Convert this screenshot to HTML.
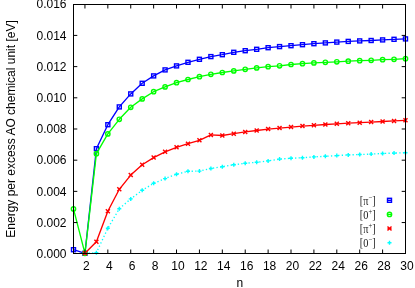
<!DOCTYPE html>
<html><head><meta charset="utf-8"><title>plot</title>
<style>
html,body{margin:0;padding:0;background:#fff;}
body{width:415px;height:288px;overflow:hidden;}
svg{display:block;will-change:transform;opacity:0.999;}
text{font-family:"Liberation Sans",sans-serif;fill:#000;}
.t{font-size:12px;}
.k{font-family:"Liberation Serif",serif;font-size:11.6px;fill:#222;}
</style></head><body>
<svg width="415" height="288" viewBox="0 0 415 288">
<rect width="415" height="288" fill="#fff"/>
<polyline points="73.50,249.70 84.95,253.30 96.40,148.70 107.84,124.70 119.29,106.90 130.74,93.90 142.19,83.30 153.64,75.90 165.08,69.90 176.53,65.90 187.98,62.30 199.43,59.30 210.88,56.60 222.32,54.70 233.77,52.30 245.22,50.70 256.67,49.30 268.12,47.70 279.56,46.60 291.01,45.70 302.46,44.70 313.91,43.70 325.36,42.90 336.80,42.10 348.25,41.40 359.70,40.90 371.15,40.50 382.60,39.90 394.04,39.30 405.49,38.90" fill="none" stroke="#0000ff" stroke-width="1.35" stroke-linejoin="round" />
<rect x="71.50" y="247.70" width="4.0" height="4.0" fill="none" stroke="#0000ff" stroke-width="1.4"/>
<rect x="82.95" y="251.30" width="4.0" height="4.0" fill="none" stroke="#0000ff" stroke-width="1.4"/>
<rect x="94.40" y="146.70" width="4.0" height="4.0" fill="none" stroke="#0000ff" stroke-width="1.4"/>
<rect x="105.84" y="122.70" width="4.0" height="4.0" fill="none" stroke="#0000ff" stroke-width="1.4"/>
<rect x="117.29" y="104.90" width="4.0" height="4.0" fill="none" stroke="#0000ff" stroke-width="1.4"/>
<rect x="128.74" y="91.90" width="4.0" height="4.0" fill="none" stroke="#0000ff" stroke-width="1.4"/>
<rect x="140.19" y="81.30" width="4.0" height="4.0" fill="none" stroke="#0000ff" stroke-width="1.4"/>
<rect x="151.64" y="73.90" width="4.0" height="4.0" fill="none" stroke="#0000ff" stroke-width="1.4"/>
<rect x="163.08" y="67.90" width="4.0" height="4.0" fill="none" stroke="#0000ff" stroke-width="1.4"/>
<rect x="174.53" y="63.90" width="4.0" height="4.0" fill="none" stroke="#0000ff" stroke-width="1.4"/>
<rect x="185.98" y="60.30" width="4.0" height="4.0" fill="none" stroke="#0000ff" stroke-width="1.4"/>
<rect x="197.43" y="57.30" width="4.0" height="4.0" fill="none" stroke="#0000ff" stroke-width="1.4"/>
<rect x="208.88" y="54.60" width="4.0" height="4.0" fill="none" stroke="#0000ff" stroke-width="1.4"/>
<rect x="220.32" y="52.70" width="4.0" height="4.0" fill="none" stroke="#0000ff" stroke-width="1.4"/>
<rect x="231.77" y="50.30" width="4.0" height="4.0" fill="none" stroke="#0000ff" stroke-width="1.4"/>
<rect x="243.22" y="48.70" width="4.0" height="4.0" fill="none" stroke="#0000ff" stroke-width="1.4"/>
<rect x="254.67" y="47.30" width="4.0" height="4.0" fill="none" stroke="#0000ff" stroke-width="1.4"/>
<rect x="266.12" y="45.70" width="4.0" height="4.0" fill="none" stroke="#0000ff" stroke-width="1.4"/>
<rect x="277.56" y="44.60" width="4.0" height="4.0" fill="none" stroke="#0000ff" stroke-width="1.4"/>
<rect x="289.01" y="43.70" width="4.0" height="4.0" fill="none" stroke="#0000ff" stroke-width="1.4"/>
<rect x="300.46" y="42.70" width="4.0" height="4.0" fill="none" stroke="#0000ff" stroke-width="1.4"/>
<rect x="311.91" y="41.70" width="4.0" height="4.0" fill="none" stroke="#0000ff" stroke-width="1.4"/>
<rect x="323.36" y="40.90" width="4.0" height="4.0" fill="none" stroke="#0000ff" stroke-width="1.4"/>
<rect x="334.80" y="40.10" width="4.0" height="4.0" fill="none" stroke="#0000ff" stroke-width="1.4"/>
<rect x="346.25" y="39.40" width="4.0" height="4.0" fill="none" stroke="#0000ff" stroke-width="1.4"/>
<rect x="357.70" y="38.90" width="4.0" height="4.0" fill="none" stroke="#0000ff" stroke-width="1.4"/>
<rect x="369.15" y="38.50" width="4.0" height="4.0" fill="none" stroke="#0000ff" stroke-width="1.4"/>
<rect x="380.60" y="37.90" width="4.0" height="4.0" fill="none" stroke="#0000ff" stroke-width="1.4"/>
<rect x="392.04" y="37.30" width="4.0" height="4.0" fill="none" stroke="#0000ff" stroke-width="1.4"/>
<rect x="403.49" y="36.90" width="4.0" height="4.0" fill="none" stroke="#0000ff" stroke-width="1.4"/>
<polyline points="73.50,208.90 84.95,253.30 96.40,153.70 107.84,133.90 119.29,119.30 130.74,107.30 142.19,98.90 153.64,91.70 165.08,86.90 176.53,82.70 187.98,79.50 199.43,76.70 210.88,74.30 222.32,72.50 233.77,70.90 245.22,69.30 256.67,67.90 268.12,66.70 279.56,65.80 291.01,64.50 302.46,63.70 313.91,62.90 325.36,62.30 336.80,61.80 348.25,61.20 359.70,60.70 371.15,60.30 382.60,59.70 394.04,59.30 405.49,58.70" fill="none" stroke="#00ff00" stroke-width="1.35" stroke-linejoin="round" />
<circle cx="73.50" cy="208.90" r="2.15" fill="none" stroke="#00ff00" stroke-width="1.4"/>
<circle cx="84.95" cy="253.30" r="2.15" fill="none" stroke="#00ff00" stroke-width="1.4"/>
<circle cx="96.40" cy="153.70" r="2.15" fill="none" stroke="#00ff00" stroke-width="1.4"/>
<circle cx="107.84" cy="133.90" r="2.15" fill="none" stroke="#00ff00" stroke-width="1.4"/>
<circle cx="119.29" cy="119.30" r="2.15" fill="none" stroke="#00ff00" stroke-width="1.4"/>
<circle cx="130.74" cy="107.30" r="2.15" fill="none" stroke="#00ff00" stroke-width="1.4"/>
<circle cx="142.19" cy="98.90" r="2.15" fill="none" stroke="#00ff00" stroke-width="1.4"/>
<circle cx="153.64" cy="91.70" r="2.15" fill="none" stroke="#00ff00" stroke-width="1.4"/>
<circle cx="165.08" cy="86.90" r="2.15" fill="none" stroke="#00ff00" stroke-width="1.4"/>
<circle cx="176.53" cy="82.70" r="2.15" fill="none" stroke="#00ff00" stroke-width="1.4"/>
<circle cx="187.98" cy="79.50" r="2.15" fill="none" stroke="#00ff00" stroke-width="1.4"/>
<circle cx="199.43" cy="76.70" r="2.15" fill="none" stroke="#00ff00" stroke-width="1.4"/>
<circle cx="210.88" cy="74.30" r="2.15" fill="none" stroke="#00ff00" stroke-width="1.4"/>
<circle cx="222.32" cy="72.50" r="2.15" fill="none" stroke="#00ff00" stroke-width="1.4"/>
<circle cx="233.77" cy="70.90" r="2.15" fill="none" stroke="#00ff00" stroke-width="1.4"/>
<circle cx="245.22" cy="69.30" r="2.15" fill="none" stroke="#00ff00" stroke-width="1.4"/>
<circle cx="256.67" cy="67.90" r="2.15" fill="none" stroke="#00ff00" stroke-width="1.4"/>
<circle cx="268.12" cy="66.70" r="2.15" fill="none" stroke="#00ff00" stroke-width="1.4"/>
<circle cx="279.56" cy="65.80" r="2.15" fill="none" stroke="#00ff00" stroke-width="1.4"/>
<circle cx="291.01" cy="64.50" r="2.15" fill="none" stroke="#00ff00" stroke-width="1.4"/>
<circle cx="302.46" cy="63.70" r="2.15" fill="none" stroke="#00ff00" stroke-width="1.4"/>
<circle cx="313.91" cy="62.90" r="2.15" fill="none" stroke="#00ff00" stroke-width="1.4"/>
<circle cx="325.36" cy="62.30" r="2.15" fill="none" stroke="#00ff00" stroke-width="1.4"/>
<circle cx="336.80" cy="61.80" r="2.15" fill="none" stroke="#00ff00" stroke-width="1.4"/>
<circle cx="348.25" cy="61.20" r="2.15" fill="none" stroke="#00ff00" stroke-width="1.4"/>
<circle cx="359.70" cy="60.70" r="2.15" fill="none" stroke="#00ff00" stroke-width="1.4"/>
<circle cx="371.15" cy="60.30" r="2.15" fill="none" stroke="#00ff00" stroke-width="1.4"/>
<circle cx="382.60" cy="59.70" r="2.15" fill="none" stroke="#00ff00" stroke-width="1.4"/>
<circle cx="394.04" cy="59.30" r="2.15" fill="none" stroke="#00ff00" stroke-width="1.4"/>
<circle cx="405.49" cy="58.70" r="2.15" fill="none" stroke="#00ff00" stroke-width="1.4"/>
<polyline points="84.95,253.30 96.40,241.70 107.84,211.30 119.29,189.30 130.74,175.10 142.19,164.70 153.64,157.60 165.08,151.80 176.53,147.30 187.98,143.70 199.43,140.30 210.88,134.90 222.32,135.50 233.77,133.70 245.22,131.90 256.67,130.50 268.12,129.10 279.56,128.10 291.01,127.10 302.46,126.10 313.91,125.30 325.36,124.50 336.80,123.80 348.25,123.20 359.70,122.70 371.15,122.10 382.60,121.50 394.04,120.90 405.49,120.30" fill="none" stroke="#ff0000" stroke-width="1.35" stroke-linejoin="round" />
<path d="M82.95 251.30L86.95 255.30M82.95 255.30L86.95 251.30" stroke="#ff0000" stroke-width="1.4" fill="none"/>
<path d="M94.40 239.70L98.40 243.70M94.40 243.70L98.40 239.70" stroke="#ff0000" stroke-width="1.4" fill="none"/>
<path d="M105.84 209.30L109.84 213.30M105.84 213.30L109.84 209.30" stroke="#ff0000" stroke-width="1.4" fill="none"/>
<path d="M117.29 187.30L121.29 191.30M117.29 191.30L121.29 187.30" stroke="#ff0000" stroke-width="1.4" fill="none"/>
<path d="M128.74 173.10L132.74 177.10M128.74 177.10L132.74 173.10" stroke="#ff0000" stroke-width="1.4" fill="none"/>
<path d="M140.19 162.70L144.19 166.70M140.19 166.70L144.19 162.70" stroke="#ff0000" stroke-width="1.4" fill="none"/>
<path d="M151.64 155.60L155.64 159.60M151.64 159.60L155.64 155.60" stroke="#ff0000" stroke-width="1.4" fill="none"/>
<path d="M163.08 149.80L167.08 153.80M163.08 153.80L167.08 149.80" stroke="#ff0000" stroke-width="1.4" fill="none"/>
<path d="M174.53 145.30L178.53 149.30M174.53 149.30L178.53 145.30" stroke="#ff0000" stroke-width="1.4" fill="none"/>
<path d="M185.98 141.70L189.98 145.70M185.98 145.70L189.98 141.70" stroke="#ff0000" stroke-width="1.4" fill="none"/>
<path d="M197.43 138.30L201.43 142.30M197.43 142.30L201.43 138.30" stroke="#ff0000" stroke-width="1.4" fill="none"/>
<path d="M208.88 132.90L212.88 136.90M208.88 136.90L212.88 132.90" stroke="#ff0000" stroke-width="1.4" fill="none"/>
<path d="M220.32 133.50L224.32 137.50M220.32 137.50L224.32 133.50" stroke="#ff0000" stroke-width="1.4" fill="none"/>
<path d="M231.77 131.70L235.77 135.70M231.77 135.70L235.77 131.70" stroke="#ff0000" stroke-width="1.4" fill="none"/>
<path d="M243.22 129.90L247.22 133.90M243.22 133.90L247.22 129.90" stroke="#ff0000" stroke-width="1.4" fill="none"/>
<path d="M254.67 128.50L258.67 132.50M254.67 132.50L258.67 128.50" stroke="#ff0000" stroke-width="1.4" fill="none"/>
<path d="M266.12 127.10L270.12 131.10M266.12 131.10L270.12 127.10" stroke="#ff0000" stroke-width="1.4" fill="none"/>
<path d="M277.56 126.10L281.56 130.10M277.56 130.10L281.56 126.10" stroke="#ff0000" stroke-width="1.4" fill="none"/>
<path d="M289.01 125.10L293.01 129.10M289.01 129.10L293.01 125.10" stroke="#ff0000" stroke-width="1.4" fill="none"/>
<path d="M300.46 124.10L304.46 128.10M300.46 128.10L304.46 124.10" stroke="#ff0000" stroke-width="1.4" fill="none"/>
<path d="M311.91 123.30L315.91 127.30M311.91 127.30L315.91 123.30" stroke="#ff0000" stroke-width="1.4" fill="none"/>
<path d="M323.36 122.50L327.36 126.50M323.36 126.50L327.36 122.50" stroke="#ff0000" stroke-width="1.4" fill="none"/>
<path d="M334.80 121.80L338.80 125.80M334.80 125.80L338.80 121.80" stroke="#ff0000" stroke-width="1.4" fill="none"/>
<path d="M346.25 121.20L350.25 125.20M346.25 125.20L350.25 121.20" stroke="#ff0000" stroke-width="1.4" fill="none"/>
<path d="M357.70 120.70L361.70 124.70M357.70 124.70L361.70 120.70" stroke="#ff0000" stroke-width="1.4" fill="none"/>
<path d="M369.15 120.10L373.15 124.10M369.15 124.10L373.15 120.10" stroke="#ff0000" stroke-width="1.4" fill="none"/>
<path d="M380.60 119.50L384.60 123.50M380.60 123.50L384.60 119.50" stroke="#ff0000" stroke-width="1.4" fill="none"/>
<path d="M392.04 118.90L396.04 122.90M392.04 122.90L396.04 118.90" stroke="#ff0000" stroke-width="1.4" fill="none"/>
<path d="M403.49 118.30L407.49 122.30M403.49 122.30L407.49 118.30" stroke="#ff0000" stroke-width="1.4" fill="none"/>
<polyline points="84.95,253.30 96.40,252.70 107.84,228.30 119.29,208.70 130.74,198.90 142.19,190.30 153.64,183.30 165.08,178.60 176.53,174.20 187.98,171.30 199.43,171.10 210.88,168.50 222.32,166.70 233.77,164.70 245.22,163.30 256.67,162.30 268.12,160.90 279.56,159.10 291.01,158.30 302.46,157.70 313.91,156.90 325.36,156.30 336.80,155.60 348.25,154.90 359.70,154.50 371.15,154.10 382.60,153.50 394.04,153.10 405.49,152.70" fill="none" stroke="#00ffff" stroke-width="1.35" stroke-linejoin="round" stroke-dasharray="1.3 2.3"/>
<path d="M94.40 252.70H98.40M96.40 250.70V254.70" stroke="#00ffff" stroke-width="1.4" fill="none"/>
<path d="M105.84 228.30H109.84M107.84 226.30V230.30" stroke="#00ffff" stroke-width="1.4" fill="none"/>
<path d="M117.29 208.70H121.29M119.29 206.70V210.70" stroke="#00ffff" stroke-width="1.4" fill="none"/>
<path d="M128.74 198.90H132.74M130.74 196.90V200.90" stroke="#00ffff" stroke-width="1.4" fill="none"/>
<path d="M140.19 190.30H144.19M142.19 188.30V192.30" stroke="#00ffff" stroke-width="1.4" fill="none"/>
<path d="M151.64 183.30H155.64M153.64 181.30V185.30" stroke="#00ffff" stroke-width="1.4" fill="none"/>
<path d="M163.08 178.60H167.08M165.08 176.60V180.60" stroke="#00ffff" stroke-width="1.4" fill="none"/>
<path d="M174.53 174.20H178.53M176.53 172.20V176.20" stroke="#00ffff" stroke-width="1.4" fill="none"/>
<path d="M185.98 171.30H189.98M187.98 169.30V173.30" stroke="#00ffff" stroke-width="1.4" fill="none"/>
<path d="M197.43 171.10H201.43M199.43 169.10V173.10" stroke="#00ffff" stroke-width="1.4" fill="none"/>
<path d="M208.88 168.50H212.88M210.88 166.50V170.50" stroke="#00ffff" stroke-width="1.4" fill="none"/>
<path d="M220.32 166.70H224.32M222.32 164.70V168.70" stroke="#00ffff" stroke-width="1.4" fill="none"/>
<path d="M231.77 164.70H235.77M233.77 162.70V166.70" stroke="#00ffff" stroke-width="1.4" fill="none"/>
<path d="M243.22 163.30H247.22M245.22 161.30V165.30" stroke="#00ffff" stroke-width="1.4" fill="none"/>
<path d="M254.67 162.30H258.67M256.67 160.30V164.30" stroke="#00ffff" stroke-width="1.4" fill="none"/>
<path d="M266.12 160.90H270.12M268.12 158.90V162.90" stroke="#00ffff" stroke-width="1.4" fill="none"/>
<path d="M277.56 159.10H281.56M279.56 157.10V161.10" stroke="#00ffff" stroke-width="1.4" fill="none"/>
<path d="M289.01 158.30H293.01M291.01 156.30V160.30" stroke="#00ffff" stroke-width="1.4" fill="none"/>
<path d="M300.46 157.70H304.46M302.46 155.70V159.70" stroke="#00ffff" stroke-width="1.4" fill="none"/>
<path d="M311.91 156.90H315.91M313.91 154.90V158.90" stroke="#00ffff" stroke-width="1.4" fill="none"/>
<path d="M323.36 156.30H327.36M325.36 154.30V158.30" stroke="#00ffff" stroke-width="1.4" fill="none"/>
<path d="M334.80 155.60H338.80M336.80 153.60V157.60" stroke="#00ffff" stroke-width="1.4" fill="none"/>
<path d="M346.25 154.90H350.25M348.25 152.90V156.90" stroke="#00ffff" stroke-width="1.4" fill="none"/>
<path d="M357.70 154.50H361.70M359.70 152.50V156.50" stroke="#00ffff" stroke-width="1.4" fill="none"/>
<path d="M369.15 154.10H373.15M371.15 152.10V156.10" stroke="#00ffff" stroke-width="1.4" fill="none"/>
<path d="M380.60 153.50H384.60M382.60 151.50V155.50" stroke="#00ffff" stroke-width="1.4" fill="none"/>
<path d="M392.04 153.10H396.04M394.04 151.10V155.10" stroke="#00ffff" stroke-width="1.4" fill="none"/>
<path d="M403.49 152.70H407.49M405.49 150.70V154.70" stroke="#00ffff" stroke-width="1.4" fill="none"/>
<path d="M387.5 200.30H391.5" stroke="#0000ff" stroke-width="1.35"/>
<rect x="387.50" y="198.30" width="4.0" height="4.0" fill="none" stroke="#0000ff" stroke-width="1.4"/>
<path d="M387.5 214.45H391.5" stroke="#00ff00" stroke-width="1.35"/>
<circle cx="389.50" cy="214.45" r="2.15" fill="none" stroke="#00ff00" stroke-width="1.4"/>
<path d="M387.5 228.60H391.5" stroke="#ff0000" stroke-width="1.35"/>
<path d="M387.50 226.60L391.50 230.60M387.50 230.60L391.50 226.60" stroke="#ff0000" stroke-width="1.4" fill="none"/>
<path d="M387.50 242.75H391.50M389.50 240.75V244.75" stroke="#00ffff" stroke-width="1.4" fill="none"/>
<text class="k" x="359.8" y="204.70" textLength="15.8" lengthAdjust="spacingAndGlyphs">[π<tspan dy="-5" font-size="7.5">−</tspan><tspan dy="5">]</tspan></text>
<text class="k" x="359.8" y="218.85" textLength="15.8" lengthAdjust="spacingAndGlyphs">[0<tspan dy="-5" font-size="7.5">+</tspan><tspan dy="5">]</tspan></text>
<text class="k" x="359.8" y="233.00" textLength="15.8" lengthAdjust="spacingAndGlyphs">[π<tspan dy="-5" font-size="7.5">+</tspan><tspan dy="5">]</tspan></text>
<text class="k" x="359.8" y="247.15" textLength="15.8" lengthAdjust="spacingAndGlyphs">[0<tspan dy="-5" font-size="7.5">−</tspan><tspan dy="5">]</tspan></text>
<rect x="73.5" y="4.5" width="332.0" height="249.0" fill="none" stroke="#000" stroke-width="1"/>
<path d="M73.5 222.56h3.8M405.5 222.56h-3.8M73.5 191.37h3.8M405.5 191.37h-3.8M73.5 160.18h3.8M405.5 160.18h-3.8M73.5 128.99h3.8M405.5 128.99h-3.8M73.5 97.80h3.8M405.5 97.80h-3.8M73.5 66.61h3.8M405.5 66.61h-3.8M73.5 35.42h3.8M405.5 35.42h-3.8M84.95 253.5v-4M84.95 4.5v4M107.84 253.5v-4M107.84 4.5v4M130.74 253.5v-4M130.74 4.5v4M153.64 253.5v-4M153.64 4.5v4M176.53 253.5v-4M176.53 4.5v4M199.43 253.5v-4M199.43 4.5v4M222.32 253.5v-4M222.32 4.5v4M245.22 253.5v-4M245.22 4.5v4M268.12 253.5v-4M268.12 4.5v4M291.01 253.5v-4M291.01 4.5v4M313.91 253.5v-4M313.91 4.5v4M336.80 253.5v-4M336.80 4.5v4M359.70 253.5v-4M359.70 4.5v4M382.60 253.5v-4M382.60 4.5v4" stroke="#000" stroke-width="1" fill="none"/>
<text class="t" x="66.5" y="257.90" text-anchor="end">0.000</text>
<text class="t" x="66.5" y="226.71" text-anchor="end">0.002</text>
<text class="t" x="66.5" y="195.52" text-anchor="end">0.004</text>
<text class="t" x="66.5" y="164.33" text-anchor="end">0.006</text>
<text class="t" x="66.5" y="133.14" text-anchor="end">0.008</text>
<text class="t" x="66.5" y="101.95" text-anchor="end">0.010</text>
<text class="t" x="66.5" y="70.76" text-anchor="end">0.012</text>
<text class="t" x="66.5" y="39.57" text-anchor="end">0.014</text>
<text class="t" x="66.5" y="8.38" text-anchor="end">0.016</text>
<text class="t" x="86.40" y="270.3" text-anchor="middle">2</text>
<text class="t" x="109.29" y="270.3" text-anchor="middle">4</text>
<text class="t" x="132.19" y="270.3" text-anchor="middle">6</text>
<text class="t" x="155.09" y="270.3" text-anchor="middle">8</text>
<text class="t" x="177.98" y="270.3" text-anchor="middle">10</text>
<text class="t" x="200.88" y="270.3" text-anchor="middle">12</text>
<text class="t" x="223.77" y="270.3" text-anchor="middle">14</text>
<text class="t" x="246.67" y="270.3" text-anchor="middle">16</text>
<text class="t" x="269.57" y="270.3" text-anchor="middle">18</text>
<text class="t" x="292.46" y="270.3" text-anchor="middle">20</text>
<text class="t" x="315.36" y="270.3" text-anchor="middle">22</text>
<text class="t" x="338.25" y="270.3" text-anchor="middle">24</text>
<text class="t" x="361.15" y="270.3" text-anchor="middle">26</text>
<text class="t" x="384.05" y="270.3" text-anchor="middle">28</text>
<text class="t" x="406.94" y="270.3" text-anchor="middle">30</text>
<text class="t" x="239.8" y="286.6" text-anchor="middle">n</text>
<text class="t" transform="translate(15,128.95) rotate(-90)" text-anchor="middle" font-size="12.15">Energy per excess AO chemical unit [eV]</text>
</svg></body></html>
